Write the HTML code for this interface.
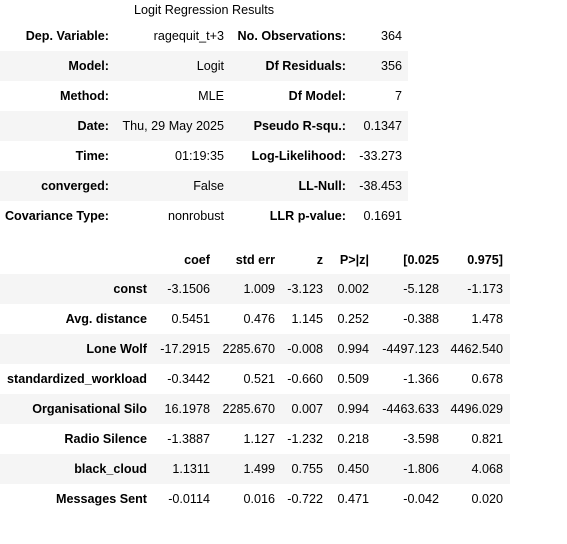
<!DOCTYPE html>
<html><head><meta charset="utf-8">
<style>
body{margin:0;width:567px;height:544px;background:#fff;font-family:"Liberation Sans",sans-serif;font-size:12.6px;color:#000;position:relative;overflow:hidden}
.row{position:absolute;left:0;height:30px}
.g{background:#f5f5f5}
.c{position:absolute;top:0;line-height:31px;white-space:nowrap;text-align:right}
.b{font-weight:bold}
</style></head><body>
<div style="position:absolute;left:0;width:408px;top:2px;text-align:center;line-height:16px">Logit Regression Results</div>
<div id="t1"></div>
<div id="t2"></div>
<script>
const t1rows=[
["Dep. Variable:","ragequit_t+3","No. Observations:","364"],
["Model:","Logit","Df Residuals:","356"],
["Method:","MLE","Df Model:","7"],
["Date:","Thu, 29 May 2025","Pseudo R-squ.:","0.1347"],
["Time:","01:19:35","Log-Likelihood:","-33.273"],
["converged:","False","LL-Null:","-38.453"],
["Covariance Type:","nonrobust","LLR p-value:","0.1691"]];
const t1right=[109,224,346,402];
const t1=document.getElementById('t1');
t1rows.forEach((r,i)=>{
 const d=document.createElement('div');
 d.className='row'+(i%2?' g':'');
 d.style.top=(21+i*30)+'px';d.style.width='408px';
 
 
 r.forEach((v,j)=>{const s=document.createElement('span');
  s.className='c'+(j%2==0?' b':'');s.textContent=v;
  s.style.right=(408-t1right[j])+'px';
  
  
  d.appendChild(s);});
 t1.appendChild(d);
});
const hdr=["","coef","std err","z","P>|z|","[0.025","0.975]"];
const t2rows=[
["const","-3.1506","1.009","-3.123","0.002","-5.128","-1.173"],
["Avg. distance","0.5451","0.476","1.145","0.252","-0.388","1.478"],
["Lone Wolf","-17.2915","2285.670","-0.008","0.994","-4497.123","4462.540"],
["standardized_workload","-0.3442","0.521","-0.660","0.509","-1.366","0.678"],
["Organisational Silo","16.1978","2285.670","0.007","0.994","-4463.633","4496.029"],
["Radio Silence","-1.3887","1.127","-1.232","0.218","-3.598","0.821"],
["black_cloud","1.1311","1.499","0.755","0.450","-1.806","4.068"],
["Messages Sent","-0.0114","0.016","-0.722","0.471","-0.042","0.020"]];
const t2right=[147,210,275,323,369,439,503];
const t2=document.getElementById('t2');
[hdr].concat(t2rows).forEach((r,i)=>{
 const d=document.createElement('div');
 d.className='row'+(i%2?' g':'');
 d.style.top=(i==0?245:244+i*30)+'px';d.style.width='510px';
 
 
 r.forEach((v,j)=>{const s=document.createElement('span');
  s.className='c'+((i==0||j==0)?' b':'');s.textContent=v;
  s.style.right=(510-t2right[j])+'px';
  
  
  d.appendChild(s);});
 t2.appendChild(d);
});
</script>
</body></html>
